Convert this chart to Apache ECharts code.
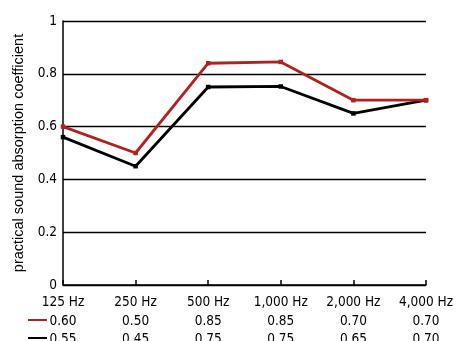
<!DOCTYPE html>
<html>
<head>
<meta charset="utf-8">
<script src="https://cdn.jsdelivr.net/npm/echarts@6/dist/echarts.min.js"></script>
<style>
html,body{margin:0;padding:0;background:#fff;}
#chart{width:464px;height:341px;}
</style>
</head>
<body>
<div id="chart"></div>
<script>
const categories = ['125 Hz', '250 Hz', '500 Hz', '1,000 Hz', '2,000 Hz', '4,000 Hz'];
const redValues = [0.60, 0.50, 0.84, 0.845, 0.70, 0.70];
const blackValues = [0.56, 0.45, 0.75, 0.752, 0.65, 0.70];
const redTable = ['0.60', '0.50', '0.85', '0.85', '0.70', '0.70'];
const blackTable = ['0.55', '0.45', '0.75', '0.75', '0.65', '0.70'];
const yTicks = { min: 0, max: 1, interval: 0.2 };
const yTitle = 'practical sound absorption coefficient';

const NARROW = "'DejaVu Sans Condensed', 'Liberation Sans Narrow', sans-serif";
const FS = 13.5;
const RED = '#b3211f';

const chart = echarts.init(document.getElementById('chart'), null, { renderer: 'canvas' });

function tableAxis(data, offset) {
  return {
    type: 'category', data: data, boundaryGap: false, gridIndex: 0, position: 'bottom', offset: offset,
    axisLine: { show: false }, axisTick: { show: false }, splitLine: { show: false },
    axisLabel: { interval: 0, margin: 10, fontSize: FS, color: '#000', fontFamily: NARROW }
  };
}

chart.setOption({
  animation: false,
  backgroundColor: '#fff',
  grid: { left: 63, right: 38, top: 21, bottom: 56, outerBoundsMode: 'none', containLabel: false },
  legend: {
    orient: 'vertical', left: 28, top: 319, padding: 0, itemGap: 16,
    icon: 'rect', itemWidth: 19, itemHeight: 2, selectedMode: false,
    data: ['measured A', 'measured B'],
    formatter: function () { return ''; },
    textStyle: { fontSize: 1, fontFamily: NARROW }
  },
  xAxis: [
    {
      type: 'category', data: categories, boundaryGap: false, gridIndex: 0, position: 'bottom',
      axisLine: { show: true, lineStyle: { color: '#000', width: 1.5 } },
      axisTick: { show: true, inside: true, length: 5, alignWithLabel: true, lineStyle: { color: '#000', width: 1.5 } },
      splitLine: { show: false },
      axisLabel: { interval: 0, margin: 10, fontSize: FS, color: '#000', fontFamily: NARROW }
    },
    tableAxis(redTable, 19),
    tableAxis(blackTable, 37)
  ],
  yAxis: {
    type: 'value', min: yTicks.min, max: yTicks.max, interval: yTicks.interval,
    name: yTitle, nameLocation: 'middle', nameGap: 30, nameRotate: 90,
    nameTextStyle: { fontSize: 14.5, color: '#000', fontFamily: "'Liberation Sans', Arial, sans-serif" },
    axisLine: { show: true, lineStyle: { color: '#000', width: 1.5 } },
    axisTick: { show: false },
    splitLine: { show: true, lineStyle: { color: '#000', width: 1.4 } },
    axisLabel: { margin: 6, fontSize: FS, color: '#000', fontFamily: NARROW }
  },
  series: [
    {
      name: 'measured B', type: 'line', data: blackValues, xAxisIndex: 0,
      symbol: 'rect', symbolSize: 4.5, showSymbol: true,
      itemStyle: { color: '#000' }, lineStyle: { color: '#000', width: 2.8 }, z: 2
    },
    {
      name: 'measured A', type: 'line', data: redValues, xAxisIndex: 0,
      symbol: 'rect', symbolSize: 4.5, showSymbol: true,
      itemStyle: { color: RED }, lineStyle: { color: RED, width: 2.8 }, z: 3
    }
  ]
});
</script>
</body>
</html>
